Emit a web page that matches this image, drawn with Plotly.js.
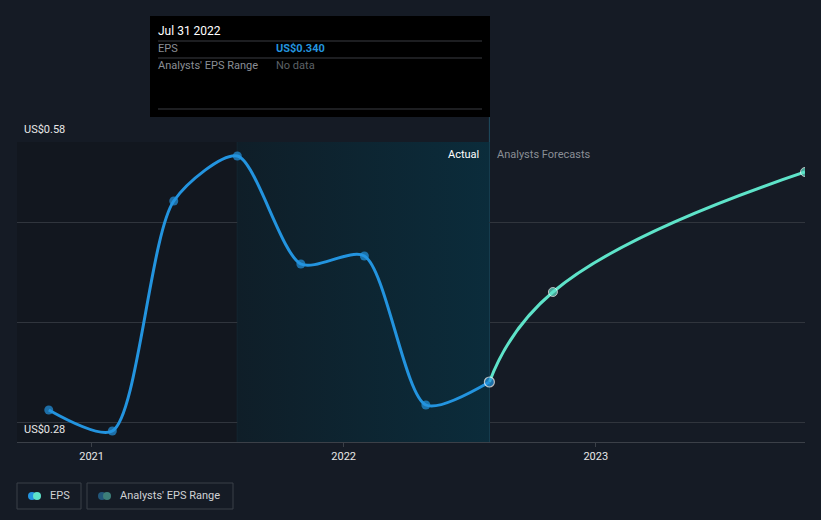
<!DOCTYPE html>
<html><head><meta charset="utf-8">
<script src="https://cdn.plot.ly/plotly-3.0.1.min.js"></script>
<style>html,body{margin:0;padding:0;background:#151b25;}#chart{width:821px;height:520px;}</style>
</head><body><div id="chart"></div>
<script>
// Actual EPS
const actualDates = ['2020-10-31','2021-01-31','2021-04-30','2021-07-31','2021-10-31','2022-01-31','2022-04-30','2022-07-31'];
const actualEps = [0.312, 0.291, 0.521, 0.566, 0.458, 0.466, 0.317, 0.340];
// Analyst forecasts
const forecastDates = ['2022-07-31','2022-10-31','2023-10-31'];
const forecastEps = [0.340, 0.430, 0.550];
// Periods / labels
const pastStart = '2020-09-15';
const highlightStart = '2021-07-31';
const highlightEnd = '2022-07-31';
const xEnd = '2023-10-31';
const yMin = 0.28, yMax = 0.58;
const yTickLabels = ['US$0.58', 'US$0.28'];
const yTickValues = [0.58, 0.28];
const tooltipDate = 'Jul 31 2022';
const tooltipEps = 'US$0.340';

const FONT = 'Roboto, "Open Sans", Arial, sans-serif';

const traces = [
  {x: [highlightStart, highlightEnd, highlightEnd, highlightStart, highlightStart], y: [yMin, yMin, yMax, yMax, yMin],
   type: 'scatter', mode: 'none', fill: 'toself',
   fillgradient: {type: 'horizontal', colorscale: [[0, '#0f1e28'], [1, '#0b2c3b']]},
   hoverinfo: 'skip', showlegend: false},
  {x: forecastDates, y: forecastEps, mode: 'lines+markers', type: 'scatter',
   line: {color: '#5ee3c9', width: 3, shape: 'spline', smoothing: 1.3},
   marker: {color: '#5ee3c9', size: [0, 9, 9]}, hoverinfo: 'skip', showlegend: false},
  {x: actualDates, y: actualEps, mode: 'lines+markers', type: 'scatter',
   line: {color: '#2394df', width: 3, shape: 'spline', smoothing: 0.75},
   marker: {color: '#2394df', size: [9,9,9,9,9,9,9,10],
            line: {color: ['#2394df','#2394df','#2394df','#2394df','#2394df','#2394df','#2394df','#ffffff'], width: [0,0,0,0,0,0,0,1.2]}},
   hoverinfo: 'skip', showlegend: false, cliponaxis: false}
];

const shapes = [
  {type: 'rect', xref: 'x', yref: 'paper', x0: pastStart, x1: highlightStart, y0: 0, y1: 1,
   fillcolor: '#12171f', line: {width: 0}, layer: 'below'},
  {type: 'line', xref: 'x', yref: 'paper', x0: highlightStart, x1: highlightStart, y0: 0, y1: 1,
   line: {color: '#18303c', width: 1}, layer: 'below'},
  {type: 'line', xref: 'x', yref: 'paper', x0: highlightEnd, x1: highlightEnd, y0: 0, y1: 1.083,
   line: {color: '#1f4d61', width: 1}, layer: 'below'},
  // tooltip box
  {type: 'rect', xref: 'paper', yref: 'paper', x0: 133/788, x1: 473/788, y0: (442-117)/300, y1: (442-16)/300,
   fillcolor: '#000000', line: {width: 0}, layer: 'above'},
  {type: 'line', xref: 'paper', yref: 'paper', x0: 141/788, x1: 465/788, y0: (442-41)/300, y1: (442-41)/300,
   line: {color: '#3a3d42', width: 1}},
  {type: 'line', xref: 'paper', yref: 'paper', x0: 141/788, x1: 465/788, y0: (442-58)/300, y1: (442-58)/300,
   line: {color: '#3a3d42', width: 1}},
  {type: 'line', xref: 'paper', yref: 'paper', x0: 141/788, x1: 465/788, y0: (442-109)/300, y1: (442-109)/300,
   line: {color: '#3a3d42', width: 1}}
];

const ann = [];
yTickLabels.forEach((t, i) => {
  ann.push({xref: 'paper', yref: 'y', x: 5/788, y: yTickValues[i], text: t, showarrow: false,
    xanchor: 'left', yanchor: 'bottom', yshift: 4, font: {family: FONT, size: 11, color: '#e8e8e8'}});
});
ann.push({xref: 'x', yref: 'paper', x: highlightEnd, y: 1, text: 'Actual', showarrow: false,
  xanchor: 'right', yanchor: 'top', xshift: -8, yshift: -4, font: {family: FONT, size: 11, color: '#ffffff'}});
ann.push({xref: 'x', yref: 'paper', x: highlightEnd, y: 1, text: 'Analysts Forecasts', showarrow: false,
  xanchor: 'left', yanchor: 'top', xshift: 6, yshift: -4, font: {family: FONT, size: 11, color: '#8a8e95'}});
// tooltip texts
ann.push({xref: 'paper', yref: 'paper', x: 139/788, y: (442-31.5)/300, text: tooltipDate, showarrow: false,
  xanchor: 'left', yanchor: 'middle', font: {family: FONT, size: 12, color: '#ffffff'}});
ann.push({xref: 'paper', yref: 'paper', x: 139/788, y: (442-49)/300, text: 'EPS', showarrow: false,
  xanchor: 'left', yanchor: 'middle', font: {family: FONT, size: 11, color: '#8a8e95'}});
ann.push({xref: 'paper', yref: 'paper', x: 257/788, y: (442-49)/300, text: '<b>' + tooltipEps + '</b>', showarrow: false,
  xanchor: 'left', yanchor: 'middle', font: {family: FONT, size: 11, color: '#2394df'}});
ann.push({xref: 'paper', yref: 'paper', x: 139/788, y: (442-66)/300, text: "Analysts' EPS Range", showarrow: false,
  xanchor: 'left', yanchor: 'middle', font: {family: FONT, size: 11, color: '#8a8e95'}});
ann.push({xref: 'paper', yref: 'paper', x: 257/788, y: (442-66)/300, text: 'No data', showarrow: false,
  xanchor: 'left', yanchor: 'middle', font: {family: FONT, size: 11, color: '#5c6066'}});

// legend (custom boxes)
const legendItems = [
  {label: 'EPS', c1: '#2394df', c2: '#5ee3c9', x0: 17, x1: 81},
  {label: "Analysts' EPS Range", c1: '#22577a', c2: '#3d7f7a', x0: 87, x1: 233}
];
const px = v => (v - 17) / 788;
const py = v => (442 - v) / 300;
legendItems.forEach(it => {
  shapes.push({type: 'rect', xref: 'paper', yref: 'paper', x0: px(it.x0), x1: px(it.x1), y0: py(509), y1: py(483),
    line: {color: '#3b4048', width: 1}, fillcolor: 'rgba(0,0,0,0)'});
  shapes.push({type: 'circle', xref: 'paper', yref: 'paper', x0: px(it.x0 + 11), x1: px(it.x0 + 19), y0: py(500), y1: py(492),
    line: {width: 0}, fillcolor: it.c1});
  shapes.push({type: 'circle', xref: 'paper', yref: 'paper', x0: px(it.x0 + 16), x1: px(it.x0 + 24), y0: py(500), y1: py(492),
    line: {width: 0}, fillcolor: it.c2});
  ann.push({xref: 'paper', yref: 'paper', x: px(it.x0 + 31), y: py(495.5), text: it.label, showarrow: false,
    xanchor: 'left', yanchor: 'middle', font: {family: FONT, size: 11, color: '#d0d2d5'}});
});

const layout = {
  width: 821, height: 520,
  paper_bgcolor: '#151b25', plot_bgcolor: '#151b25',
  margin: {l: 17, r: 16, t: 142, b: 78, pad: 0},
  showlegend: false,
  font: {family: FONT, color: '#e0e0e0'},
  xaxis: {type: 'date', range: [pastStart, xEnd], showgrid: false, zeroline: false,
    tickvals: ['2021-01-01', '2022-01-01', '2023-01-01'], ticktext: ['2021', '2022', '2023'],
    ticks: 'outside', ticklen: 4, tickcolor: '#3b4048', showline: true, linecolor: '#3b4048', linewidth: 1,
    tickfont: {family: FONT, size: 11, color: '#e8e8e8'}, fixedrange: true},
  yaxis: {range: [yMin, yMax], showgrid: true, gridcolor: '#30353d', gridwidth: 1,
    tickvals: [0.3, 0.4, 0.5, 0.58], showticklabels: false, zeroline: false, showline: false, fixedrange: true},
  shapes: shapes,
  annotations: ann
};

Plotly.newPlot('chart', traces, layout, {displayModeBar: false, staticPlot: true});
</script>
</body></html>
